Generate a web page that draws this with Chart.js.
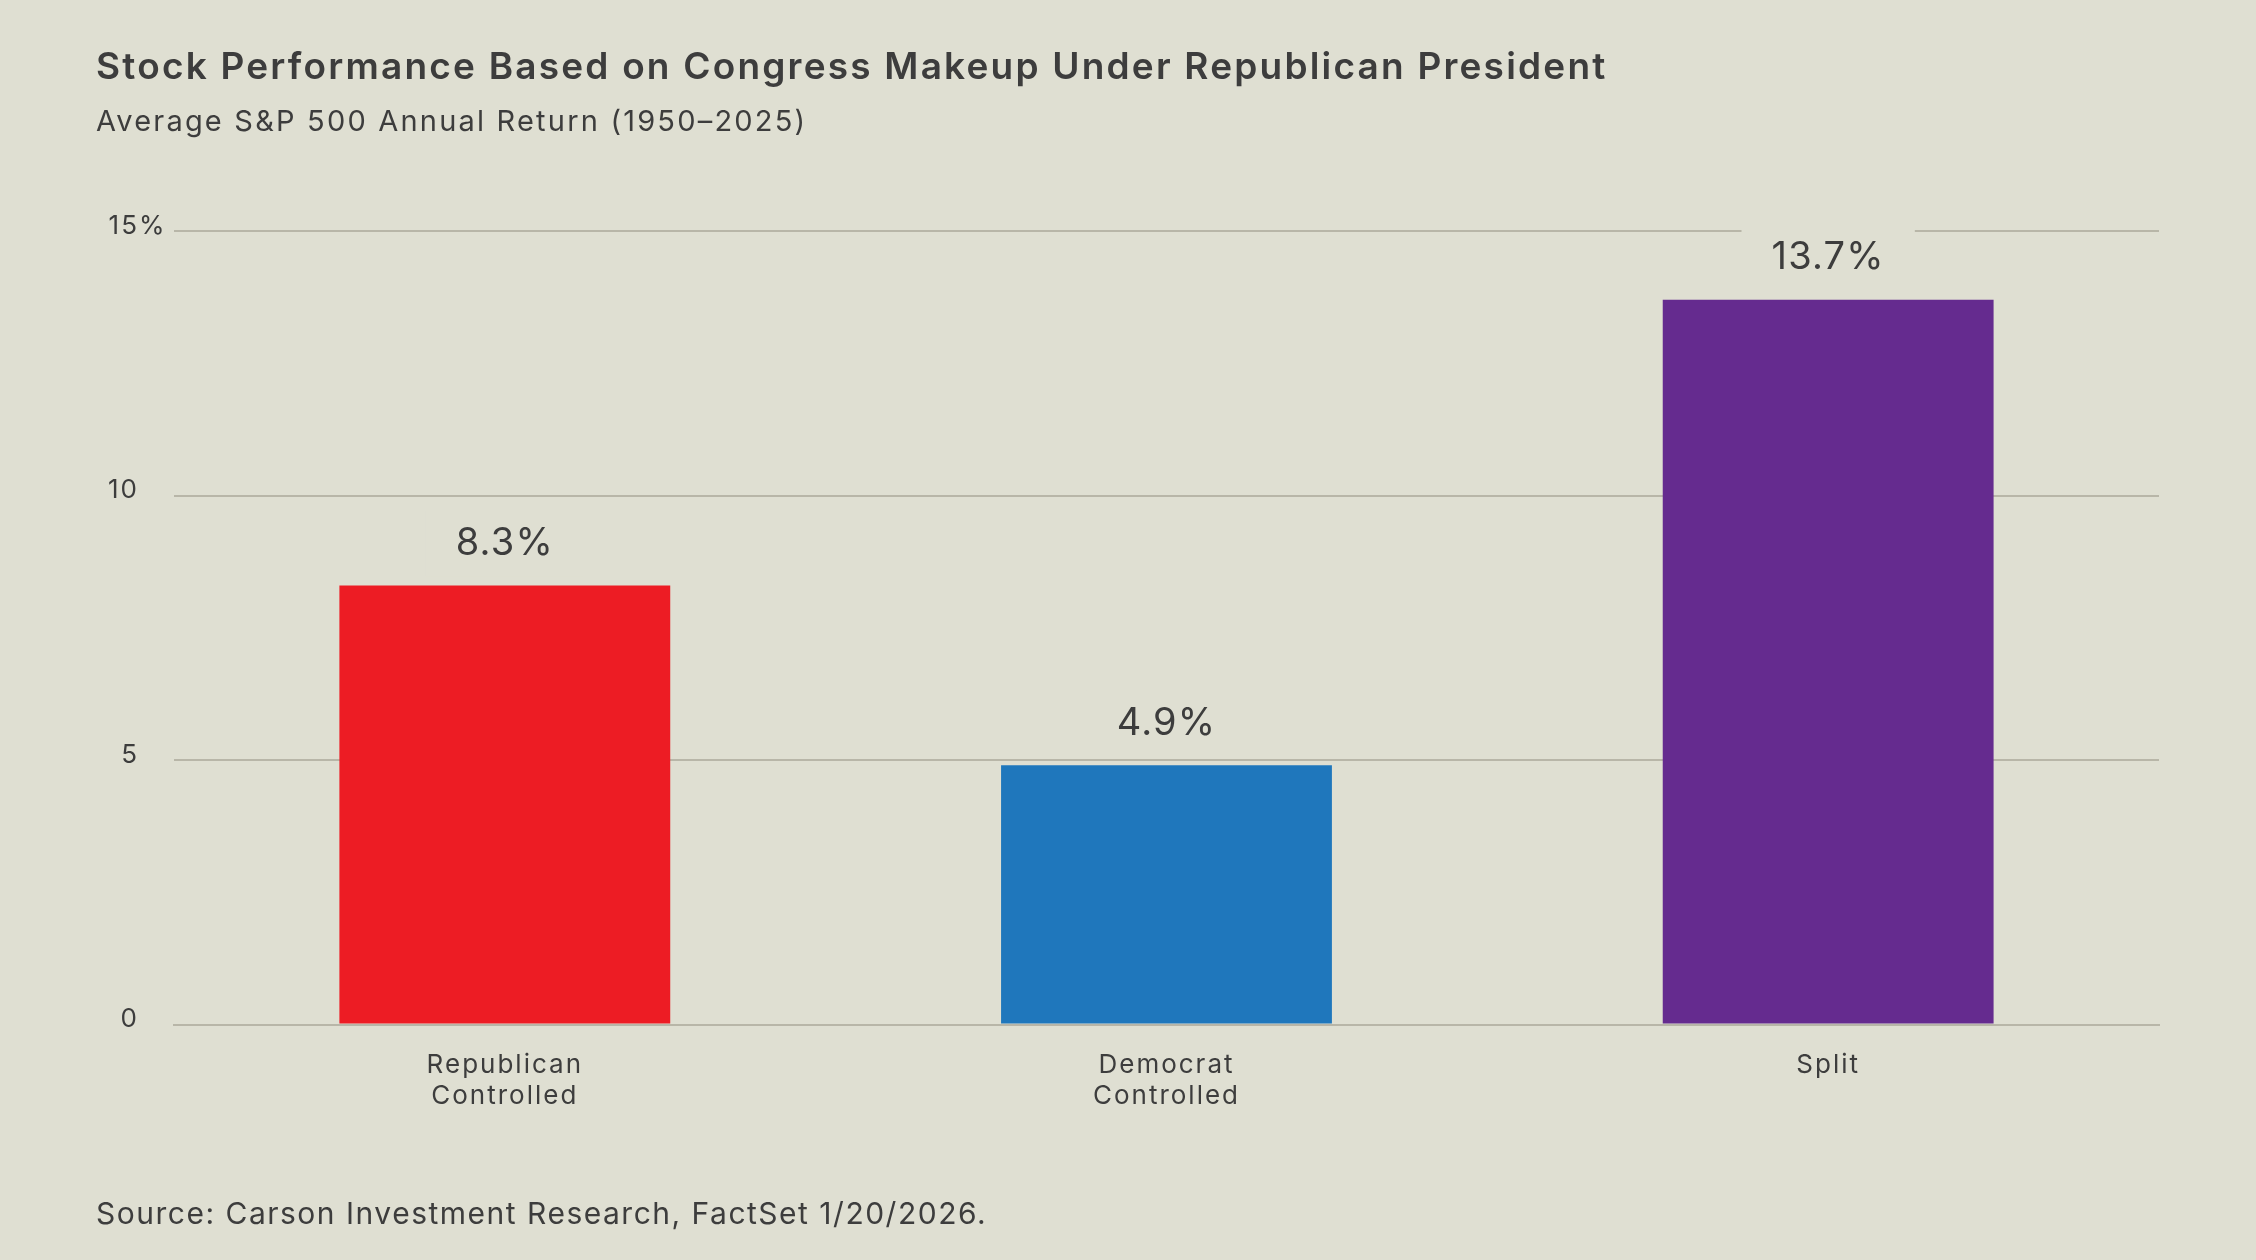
<!DOCTYPE html>
<html>
<head>
<meta charset="utf-8">
<script src="https://cdn.jsdelivr.net/npm/chart.js@4"></script>
<style>
    html, body { margin: 0; padding: 0; background: #dfdfd2; }
    #wrap { position: relative; width: 2256px; height: 1260px; }
</style>
</head>
<body>
<div id="wrap"><canvas id="congress_chart" width="2256" height="1260"></canvas></div>
<script>
// chart data
const categories = [["Republican", "Controlled"], ["Democrat", "Controlled"], "Split"];
const avgReturns = [8.3, 4.9, 13.7];
const yTickValues = [0, 5, 10, 15];
const yTickLabels = ["0", "5", "10", "15"];
const yTopSuffix = "%"; // only the top tick carries the unit, hanging past the numbers

const titleText = "Stock Performance Based on Congress Makeup Under Republican President";
const subtitleText = "Average S&P 500 Annual Return (1950\u20132025)";
const sourceText = "Source: Carson Investment Research, FactSet 1/20/2026.";

const barColors = ["#ed1c24", "#1f77bc", "#652b8f"];
const textColor = "#3d3d3d";
const bgColor = "#dfdfd2";
const gridColor = "#b8b6a8";
const fontFamily = "Inter, 'Noto Sans', sans-serif";

// the reference font runs wider, so add some tracking to every text
const tracking = {
    id: "tracking",
    beforeLayout: (chart) => { chart.ctx.letterSpacing = "2px"; },
    beforeDraw: (chart) => { chart.ctx.letterSpacing = "2px"; }
};

// title, subtitle and source drawn straight on canvas
const textPlugin = {
    id: "textPlugin",
    beforeDraw: (chart) => {
        const ctx = chart.ctx;
        ctx.save();
        ctx.fillStyle = bgColor;
        ctx.fillRect(0, 0, chart.width, chart.height);
        ctx.fillStyle = textColor;
        ctx.textBaseline = "alphabetic";
        ctx.textAlign = "left";
        ctx.letterSpacing = "2.2px";
        ctx.font = "600 37px " + fontFamily;
        ctx.fillText(titleText, 96, 79);
        ctx.font = "400 29px " + fontFamily;
        ctx.fillText(subtitleText, 96, 131);
        ctx.letterSpacing = "1.5px";
        ctx.font = "400 30px " + fontFamily;
        ctx.fillText(sourceText, 96, 1224);
        ctx.restore();
    },
    afterDraw: (chart) => {
        // "%" after the top y tick
        const ctx = chart.ctx;
        const y = chart.scales.y;
        const top = yTickValues[yTickValues.length - 1];
        ctx.save();
        ctx.letterSpacing = "2px";
        ctx.font = "400 26px " + fontFamily;
        ctx.fillStyle = textColor;
        ctx.textAlign = "left";
        ctx.textBaseline = "middle";
        ctx.fillText(yTopSuffix, y.right - 35, y.getPixelForValue(top) - 5);
        ctx.restore();
    }
};

// value labels above bars, with a background box that cuts the grid line
const valueLabels = {
    id: "valueLabels",
    afterDatasetsDraw: (chart) => {
        const ctx = chart.ctx;
        const meta = chart.getDatasetMeta(0);
        ctx.save();
        ctx.letterSpacing = "1.2px";
        ctx.font = "400 38px " + fontFamily;
        ctx.textAlign = "center";
        ctx.textBaseline = "middle";
        meta.data.forEach((bar, i) => {
            const label = avgReturns[i].toFixed(1) + "%";
            const y = bar.y - 42;
            const w = ctx.measureText(label).width + 60;
            ctx.fillStyle = bgColor;
            ctx.fillRect(bar.x - w / 2, y - 33, w, 66);
            ctx.fillStyle = textColor;
            ctx.fillText(label, bar.x, y);
        });
        ctx.restore();
    }
};

new Chart("congress_chart", {
    type: "bar",
    data: {
        labels: categories,
        datasets: [{
            data: avgReturns,
            backgroundColor: barColors,
            borderWidth: 0,
            categoryPercentage: 1,
            barPercentage: 0.5
        }]
    },
    options: {
        responsive: false,
        animation: false,
        devicePixelRatio: 1,
        layout: { padding: { top: 231, left: 73, right: 97, bottom: 131 } },
        plugins: {
            legend: { display: false },
            tooltip: { enabled: false }
        },
        scales: {
            x: {
                grid: { display: false },
                border: { display: true, color: gridColor, width: 2 },
                ticks: {
                    color: textColor,
                    font: { family: fontFamily, size: 26 },
                    padding: 17,
                    maxRotation: 0
                }
            },
            y: {
                min: 0,
                max: 15,
                afterBuildTicks: (axis) => {
                    axis.ticks = yTickValues.map(v => ({ value: v }));
                },
                grid: { color: gridColor, lineWidth: 2, drawTicks: false },
                border: { display: false },
                ticks: {
                    color: textColor,
                    font: { family: fontFamily, size: 26 },
                    padding: 35,
                    labelOffset: -5,
                    callback: (value) => yTickLabels[yTickValues.indexOf(value)]
                }
            }
        }
    },
    plugins: [tracking, textPlugin, valueLabels]
});
</script>
</body>
</html>
